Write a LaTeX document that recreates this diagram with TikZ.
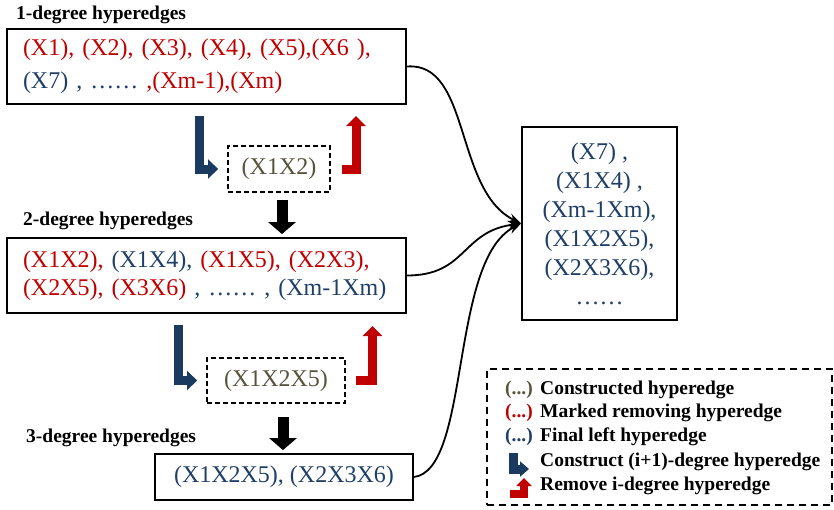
\documentclass[tikz,border=0pt]{standalone}
\usepackage{fontspec}
\setmainfont{Liberation Serif}
\usetikzlibrary{arrows.meta}
\usetikzlibrary{positioning}
\definecolor{redx}{HTML}{C00000}
\definecolor{bluex}{HTML}{1F3F66}
\definecolor{bluearr}{HTML}{1B3A5F}
\definecolor{olivex}{HTML}{57533D}

\begin{document}
\begin{tikzpicture}[x=1pt, y=-1pt,
	box/.style={draw, line width=1.8pt, inner sep=0pt},
	cbox/.style={draw, line width=1.8pt, dash pattern=on 5pt off 3pt, inner sep=0pt, text=olivex, font=\fontsize{24}{29}\selectfont},
	lab/.style={anchor=west, inner sep=0pt, font=\fontsize{19.5}{22}\selectfont\bfseries},
	big/.style={font=\fontsize{24}{29}\selectfont},
	down/.style={line width=11pt, -{Triangle[width=27pt,length=12pt]}},
	bent/.style={line width=9pt, line join=miter, -{Triangle[width=19pt,length=10pt]}},
	link/.style={line width=1.8pt, -{Stealth[length=13pt,width=9pt]}}]
	 \useasboundingbox (0,0) rectangle (834,509);
	 % hyperedge boxes
	 \node [box, big, minimum width=399pt, minimum height=75pt, text width=367pt, align=left] (b1) at (206.5,66.5)
	   {\textcolor{redx}{(X1), (X2), (X3), (X4), (X5),(X6 ),}\\[4pt]\textcolor{bluex}{(X7) , ……} \textcolor{redx}{,(Xm-1),(Xm)}};
	 \node [box, big, minimum width=399pt, minimum height=75pt, text width=367pt, align=left] (b2) at (206.5,275.5)
	   {\textcolor{redx}{(X1X2),} \textcolor{bluex}{(X1X4),} \textcolor{redx}{(X1X5), (X2X3),}\\[-1pt]\textcolor{redx}{(X2X5), (X3X6)} \textcolor{bluex}{, …… , (Xm-1Xm)}};
	 \node [box, big, text=bluex, minimum width=258pt, minimum height=46pt] (b3) at (284,477) {(X1X2X5), (X2X3X6)};
	 \node [box, big, text=bluex, minimum width=155pt, minimum height=193pt, align=center] (fin) at (599.5,223.5)
	   {(X7) ,\\(X1X4) ,\\(Xm-1Xm),\\(X1X2X5),\\(X2X3X6),\\……};
	 \node [lab] (l1) at (16,15) {1-degree hyperedges};
	 \node [lab] (l2) at (23,221) {2-degree hyperedges};
	 \node [lab] (l3) at (26,438) {3-degree hyperedges};
	 % constructed hyperedges
	 \node [cbox, minimum width=102pt, minimum height=46pt] (c1) at (279,169) {(X1X2)};
	 \node [cbox, minimum width=138pt, minimum height=45pt] (c2) at (276,380.5) {(X1X2X5)};
	 \coordinate (p1) at (199.5,116);
	 \coordinate (q1) at (356,116);
	 \coordinate (p2) at (178.5,325);
	 \coordinate (q2) at (372.5,326);
	 \draw [bent, bluearr] (p1) |- ([xshift=-9pt]c1.west);
	 \draw [bent, redx] ([xshift=11pt]c1.east) -| (q1);
	 \draw [bent, bluearr] (p2) |- ([xshift=-9pt]c2.west);
	 \draw [bent, redx] ([xshift=10pt]c2.east) -| (q2);
	 \draw [down, shorten <=7pt, shorten >=3pt] ([xshift=3pt]c1.south) -- ([xshift=3pt]c1.south |- b2.north);
	 \draw [down, shorten <=13pt, shorten >=3pt] ([xshift=7pt]c2.south) -- ([xshift=7pt]c2.south |- b3.north);
	 % links to the final hyperedges
	 \draw [link] (b1.east) .. controls +(64,-5) and +(-67,-33) .. (fin.west);
	 \draw [link] (b2.east) .. controls +(60,0) and +(-60,8) .. (fin.west);
	 \draw [link] (b3.east) .. controls +(57,-7) and +(-72,37) .. (fin.west);
	 % legend
	 \node [draw, line width=1.6pt, dash pattern=on 7pt off 5pt, minimum width=345pt, minimum height=136pt] (key) at (659.5,437) {};
	 \node [lab, text=olivex] (k1) at (505,390) {(...)};
	 \node [lab, text=redx] (k2) at (505,413) {(...)};
	 \node [lab, text=bluex] (k3) at (505,437) {(...)};
	 \node [lab] (t1) at (540,390) {Constructed hyperedge};
	 \node [lab] (t2) at (540,413) {Marked removing hyperedge};
	 \node [lab] (t3) at (540,437) {Final left hyperedge};
	 \node [lab] (t4) at (540,462) {Construct (i+1)-degree hyperedge};
	 \node [lab] (t5) at (540,486) {Remove i-degree hyperedge};
	 \draw [bluearr, line width=9pt, line join=miter, -{Triangle[width=15pt,length=9pt]}] (513,453) |- (529,469);
	 \draw [redx, line width=8pt, line join=miter, -{Triangle[width=15pt,length=8pt]}] (510,494) -| (524,478);
\end{tikzpicture}
\end{document}
